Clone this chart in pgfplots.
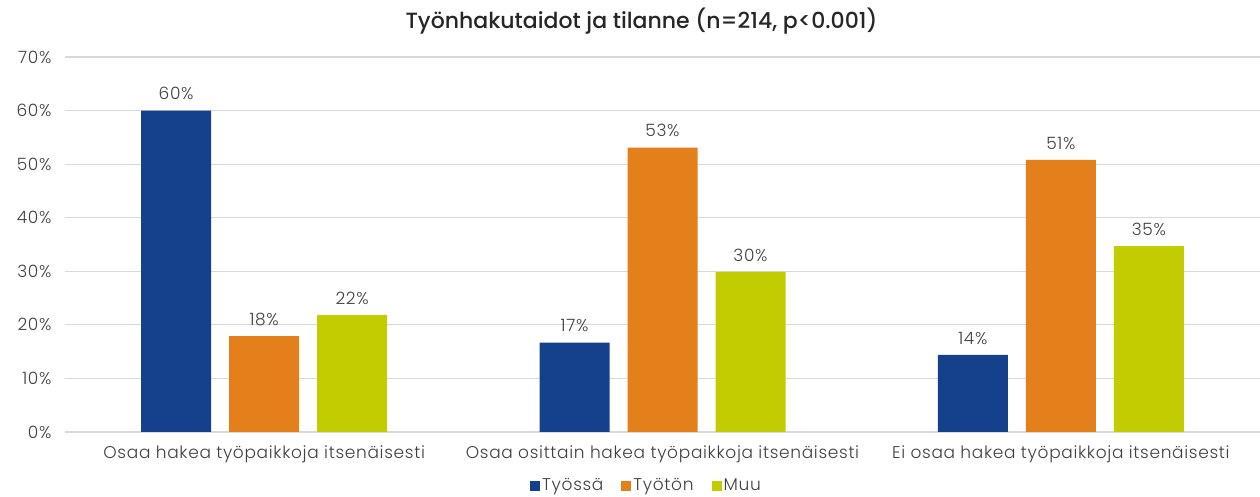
\documentclass[border=0pt]{standalone}
\usepackage{pgfplots}
\pgfplotsset{compat=1.18}
\usepackage{fontspec}
\setmainfont{Poppins Light}[LetterSpace=4]
\newfontfamily\titlefont{Poppins Medium}
\definecolor{cBlue}{HTML}{15408C}
\definecolor{cOrange}{HTML}{E3801C}
\definecolor{cGreen}{HTML}{C2CC00}
\definecolor{cGrid}{HTML}{D9D9D9}
\definecolor{cText}{HTML}{404040}
\begin{document}
\begin{tikzpicture}
\path[use as bounding box] (-65pt,-65pt) rectangle (1195pt,432pt);
\begin{axis}[
  at={(0,0)}, anchor=south west,
  scale only axis, width=1195pt, height=375pt,
  ybar=18pt, bar width=70pt,
  xmin=-0.5, xmax=2.5, ymin=0, ymax=70,
  xtick=data,
  xticklabels={Osaa hakea työpaikkoja itsenäisesti, Osaa osittain hakea työpaikkoja itsenäisesti, Ei osaa hakea työpaikkoja itsenäisesti},
  ytick={0,10,...,70},
  yticklabel={\pgfmathprintnumber{\tick}\%},
  /pgf/number format/assume math mode=true,
  ymajorgrids, grid style={cGrid, line width=1.2pt},
  axis line style={draw=none},
  major tick length=0pt,
  tick label style={font=\fontsize{17}{20}\selectfont, text=cText},
  yticklabel style={xshift=-10pt},
  xticklabel style={yshift=-10pt},
  nodes near coords={\pgfmathprintnumber[fixed,precision=0]{\pgfplotspointmeta}\%},
  nodes near coords style={font=\fontsize{17}{20}\selectfont, text=cText, yshift=7pt},
  title={Työnhakutaidot ja tilanne (n=214, p<0.001)},
  title style={at={(0.5,1.08)}, xshift=-21pt, anchor=center, font=\fontsize{22}{25}\selectfont\titlefont, text=black!85},
  legend style={at={(0.5,-0.143)}, xshift=-16pt, anchor=center, draw=none, font=\fontsize{17}{20}\selectfont, text=cText, /tikz/every even column/.append style={column sep=16pt}, inner sep=1pt},
  legend columns=3,
  legend image code/.code={\fill[#1] (0pt,-5pt) rectangle (10pt,5pt);},
]
\addplot[fill=cBlue, draw=none] coordinates {(0,60.0) (1,16.7) (2,14.4)};
\addplot[fill=cOrange, draw=none] coordinates {(0,17.9) (1,53.1) (2,50.8)};
\addplot[fill=cGreen, draw=none] coordinates {(0,21.8) (1,29.9) (2,34.7)};
\legend{Työssä, Työtön, Muu}
\end{axis}
\end{tikzpicture}
\end{document}
